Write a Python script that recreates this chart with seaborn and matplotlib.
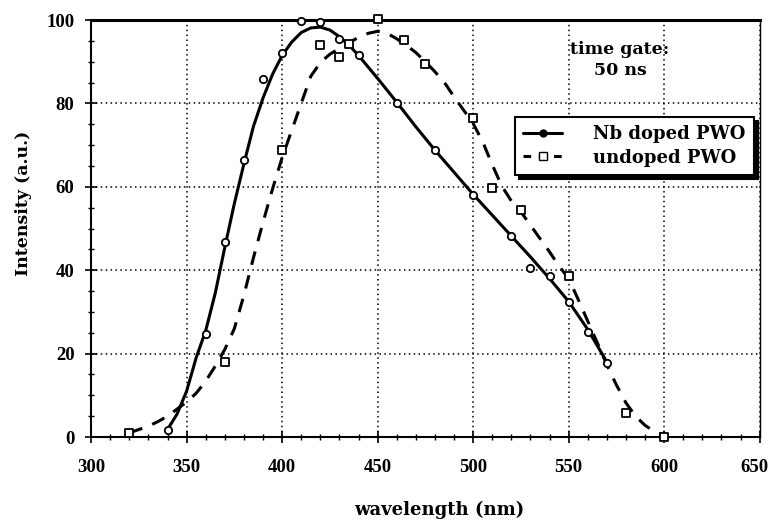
import numpy as np
import pandas as pd
import matplotlib
matplotlib.use("Agg")
import matplotlib.pyplot as plt
import seaborn as sns
from matplotlib.lines import Line2D
from matplotlib.ticker import MultipleLocator
from matplotlib.transforms import ScaledTranslation

# --- measured points (markers) ---
nb_x = [340, 360, 370, 380, 390, 400, 410, 420, 430, 440, 460, 480, 500, 520, 530, 540, 550, 560, 570]
nb_y = [1.7, 24.7, 46.8, 66.4, 85.8, 92.2, 99.8, 99.5, 95.4, 91.5, 80.0, 68.8, 58.0, 48.3, 40.5, 38.6, 32.4, 25.3, 17.7]

un_x = [320, 370, 400, 420, 430, 435, 450, 464, 475, 500, 510, 525, 550, 580, 600]
un_y = [0.9, 18.1, 68.8, 94.0, 91.1, 94.3, 100.2, 95.2, 89.4, 76.4, 59.8, 54.4, 38.5, 5.7, 0.1]

# --- smooth fitted curves ---
nb_curve_x = [340, 345, 350, 355, 360, 365, 370, 375, 380, 385, 390, 395, 400, 405, 410, 415,
              420, 425, 430, 435, 440, 450, 460, 470, 480, 490, 500, 510, 520, 530, 540, 550, 560, 570]
nb_curve_y = [1.8, 5.5, 11.0, 19.0, 25.5, 34.5, 45.5, 56.0, 65.5, 74.5, 81.3, 87.0, 91.5, 94.7, 97.0, 98.1,
              98.3, 97.6, 96.0, 94.0, 91.5, 86.0, 80.3, 74.4, 68.8, 63.5, 58.2, 53.2, 48.2, 43.2, 38.0, 32.5, 25.8, 18.0]

un_curve_x = [320, 325, 330, 335, 340, 345, 350, 355, 360, 365, 370, 375, 380, 385, 390, 395, 400, 405,
              410, 415, 420, 425, 430, 435, 440, 445, 450, 455, 460, 465, 470, 475, 480, 485, 490, 495,
              500, 505, 510, 515, 520, 525, 530, 535, 540, 545, 550, 555, 560, 565, 570, 575, 580, 585,
              590, 595, 600]
un_curve_y = [1.0, 1.8, 2.6, 3.7, 5.0, 6.7, 8.4, 10.5, 13.4, 17.0, 21.0, 26.0, 34.0, 43.0, 51.5, 59.5, 67.0, 73.5,
              80.0, 86.5, 89.8, 91.8, 93.2, 94.6, 95.8, 96.8, 97.3, 96.8, 95.5, 94.0, 92.2, 90.0, 87.6, 85.0, 81.6, 78.4,
              75.2, 70.8, 65.3, 60.2, 56.6, 54.0, 50.8, 47.6, 44.4, 41.0, 38.0, 33.0, 27.8, 22.6, 17.3, 12.5, 8.2, 5.0,
              2.8, 1.3, 0.5]

labels = ["Nb doped PWO", "undoped PWO"]
x_ticks = [300, 350, 400, 450, 500, 550, 600, 650]
y_ticks = [0, 20, 40, 60, 80, 100]

sns.set_theme(style="white")
plt.rcParams['font.family'] = ['DejaVu Serif', 'Liberation Serif']
plt.rcParams['font.weight'] = 'bold'
plt.rcParams['text.color'] = 'black'
plt.rcParams['axes.labelcolor'] = 'black'
plt.rcParams['xtick.color'] = 'black'
plt.rcParams['ytick.color'] = 'black'
TICKFONT = ['Liberation Serif', 'DejaVu Serif']

fig = plt.figure(figsize=(7.72, 5.2), dpi=100)
ax = fig.add_axes([0.118, 0.1596, 0.866, 0.8019])

dash = (0, (4.5, 3.5))
sns.lineplot(x=nb_curve_x, y=nb_curve_y, ax=ax, color='black', lw=2.2, errorbar=None, zorder=2)
sns.lineplot(x=un_curve_x, y=un_curve_y, ax=ax, color='black', lw=2.2, errorbar=None,
             linestyle=dash, zorder=2)
sns.scatterplot(x=nb_x, y=nb_y, ax=ax, marker='o', s=28, facecolor='white', edgecolor='black',
                linewidth=1.3, zorder=3, clip_on=False)
sns.scatterplot(x=un_x, y=un_y, ax=ax, marker='s', s=30, facecolor='white', edgecolor='black',
                linewidth=1.3, zorder=3, clip_on=False)

ax.set_xlim(300, 650)
ax.set_ylim(0, 100)
ax.set_xticks(x_ticks)
ax.set_yticks(y_ticks)
ax.xaxis.set_minor_locator(MultipleLocator(10))
ax.yaxis.set_minor_locator(MultipleLocator(5))
ax.tick_params(which='major', direction='inout', length=8, width=1.2, colors='black', labelsize=13.5)
ax.tick_params(which='minor', direction='inout', length=5, width=1, colors='black')
ax.tick_params(axis='x', which='both', bottom=True, pad=12)
ax.tick_params(axis='y', which='both', left=True, pad=8)
for lab in ax.get_xticklabels() + ax.get_yticklabels():
    lab.set_fontweight('bold')
    lab.set_family(TICKFONT)
    lab.set_color('black')
last = ax.get_xticklabels()[-1]
last.set_transform(last.get_transform() + ScaledTranslation(-4 / 72, 0, fig.dpi_scale_trans))

ax.grid(which='major', linestyle=(0, (1, 2.2)), color='black', lw=1.1)
ax.grid(which='minor', visible=False)
for side, w in [('left', 1.5), ('bottom', 1.5), ('top', 2.2), ('right', 1.0)]:
    ax.spines[side].set_visible(True)
    ax.spines[side].set_color('black')
    ax.spines[side].set_linewidth(w)

ax.set_xlabel('wavelength (nm)', fontsize=13, fontweight='bold', color='black')
ax.set_ylabel('Intensity (a.u.)', fontsize=12.5, fontweight='bold', color='black')
ax.xaxis.set_label_coords(0.521, -0.153)
ax.yaxis.set_label_coords(-0.088, 0.561)

ax.text(0.791, 0.905, 'time gate:\n50 ns', transform=ax.transAxes, ha='center', va='center',
        fontsize=12.5, fontweight='bold', linespacing=1.3, color='black')

handles = [
    Line2D([], [], color='black', lw=2.2, marker='o', markersize=5, markerfacecolor='black',
           markeredgecolor='black'),
    Line2D([], [], color='black', lw=2.2, linestyle=(0, (2.5, 2.5)), marker='s', markersize=6,
           markerfacecolor='white', markeredgecolor='black'),
]
leg = ax.legend(handles, labels, loc='upper right', bbox_to_anchor=(0.991, 0.767),
                frameon=True, fancybox=False, edgecolor='black', framealpha=1,
                shadow={'color': 'black', 'alpha': 1, 'ox': 3, 'oy': -3},
                prop={'size': 13, 'weight': 'bold'}, handlelength=2.2, handletextpad=1.7,
                borderpad=0.45, labelspacing=0.3, borderaxespad=0)
leg.get_frame().set_linewidth(1.5)
for t in leg.get_texts():
    t.set_color('black')

fig.savefig('out.png', dpi=100)
